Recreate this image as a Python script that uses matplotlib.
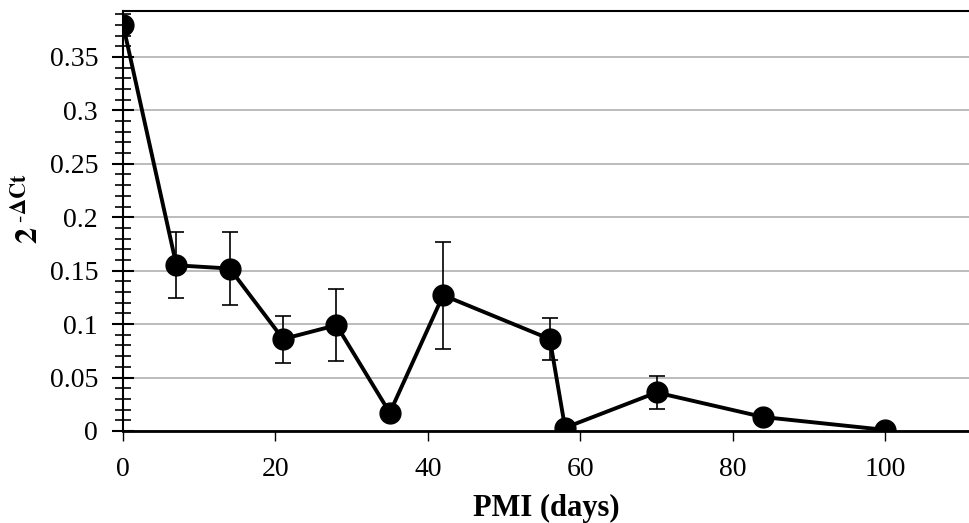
import matplotlib
matplotlib.use("Agg")
import matplotlib.pyplot as plt
from matplotlib.ticker import MultipleLocator, FormatStrFormatter

plt.rcParams['font.family'] = ['Liberation Serif', 'DejaVu Serif']
plt.rcParams['mathtext.fontset'] = 'stix'

# PMI (días) y valores 2^-dCt con su error
pmi = [0, 7, 14, 21, 28, 35, 42, 56, 58, 70, 84, 100]
expr = [0.380, 0.155, 0.152, 0.086, 0.099, 0.017, 0.127, 0.086, 0.003, 0.036, 0.013, 0.001]
err = [0.0, 0.031, 0.034, 0.022, 0.034, 0.0, 0.050, 0.020, 0.0, 0.015, 0.006, 0.0]
xticks = [0, 20, 40, 60, 80, 100]

fig = plt.figure(figsize=(9.69, 5.23), dpi=100)
ax = fig.add_axes([0.127, 0.176, 0.873, 0.803])

ax.errorbar(pmi, expr, yerr=err, color='black', lw=2.8, marker='o', ms=15,
            ecolor='black', elinewidth=1.2, capsize=6, capthick=1.2, zorder=3)

ax.set_xlim(0, 111)
ax.set_ylim(0, 0.393)
ax.set_xticks(xticks)
ax.yaxis.set_major_locator(MultipleLocator(0.05))
ax.yaxis.set_minor_locator(MultipleLocator(0.01))
ax.yaxis.set_major_formatter(FormatStrFormatter('%g'))
ax.grid(axis='y', color='#b0b0b0', lw=1.2)
ax.set_axisbelow(True)

ax.spines['right'].set_visible(False)
ax.spines['left'].set_linewidth(1.5)
ax.spines['bottom'].set_linewidth(2)
ax.spines['top'].set_linewidth(1.5)
ax.tick_params(axis='y', which='major', direction='inout', length=16, width=1.5, labelsize=20, pad=10)
ax.tick_params(axis='y', which='minor', direction='inout', length=12, width=1.2)
ax.tick_params(axis='x', direction='out', length=7, width=1, labelsize=20, pad=12, colors='black')

ax.set_xlabel('PMI (days)', fontsize=22, fontweight='bold', labelpad=8)
ax.set_ylabel(r'$\mathbf{2}^{\ \text{-}\mathbf{\Delta Ct}}$', fontsize=23)
ax.yaxis.set_label_coords(-0.093, 0.53)

fig.savefig('out.png', dpi=100)
